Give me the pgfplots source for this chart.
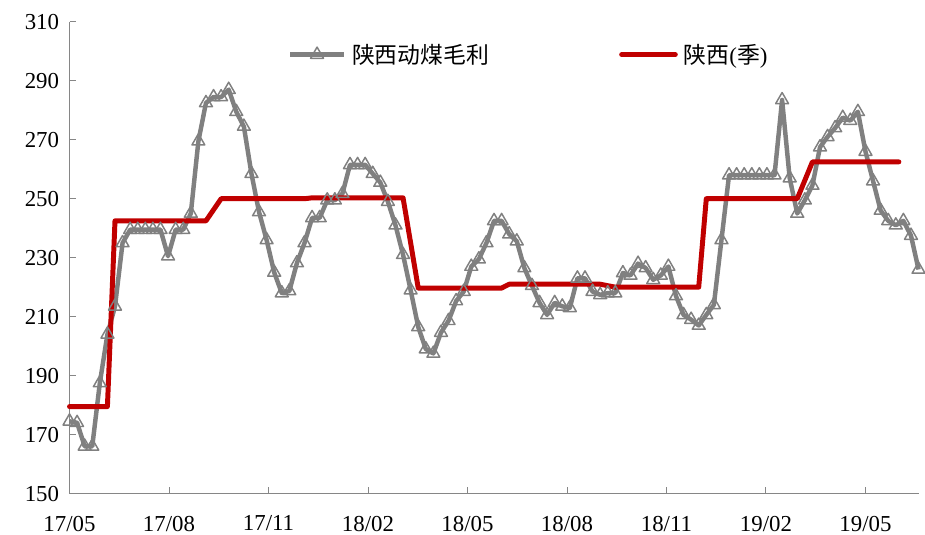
\documentclass[border=0pt]{standalone}
\usepackage{pgfplots}
\pgfplotsset{compat=1.18}
\usepackage{fontspec}
\setmainfont{Liberation Serif}
\newfontfamily\cjk{Noto Sans CJK SC}
\definecolor{lgrey}{RGB}{128,128,128}
\definecolor{axgrey}{RGB}{134,134,134}
\definecolor{dred}{RGB}{192,0,0}
\begin{document}
\begin{tikzpicture}
\begin{axis}[
  scale only axis,
  width=855bp, height=475bp,
  xmin=0, xmax=112,
  ymin=150, ymax=310,
  ytick={150,170,...,310},
  xtick={0,13.125,26.25,39.375,52.5,65.625,78.75,91.875,105},
  xticklabels={17/05,17/08,17/11,18/02,18/05,18/08,18/11,19/02,19/05},
  axis x line*=bottom, axis y line*=left,
  axis line style={axgrey, line width=1bp, -},
  major tick style={axgrey, line width=1bp},
  major tick length=7bp,
  tick align=inside,
  /pgf/number format/assume math mode=true,
  ticklabel style={font=\fontsize{23bp}{27bp}\selectfont, text=black},
  yticklabel style={xshift=-7bp},
  xticklabel style={yshift=-19bp},
  clip=false,
  legend style={at={(axis cs:28.8,298.9)}, anchor=west, draw=none, fill=none,
    inner sep=0pt, font=\fontsize{23bp}{27bp}\selectfont,
    /tikz/every odd column/.append style={column sep=4bp},
    /tikz/every even column/.append style={column sep=129bp}},
  legend columns=2,
  legend cell align=left,
  legend image code/.code={\draw[mark repeat=2,mark phase=2,#1] plot coordinates {(0bp,0bp) (27bp,0bp) (54bp,0bp)};},
]
\addplot[lgrey, line width=4.5bp, line join=round, mark=triangle, mark size=7.5bp,
  mark options={solid, draw=lgrey, fill=none, line width=1.5bp}] coordinates {
(0,174.5) (1,174) (2,166) (3,166) (4,187.5) (5,204) (6,213.5) (7,235) (8,239.5) (9,239.5)
(10,239.5) (11,239.5) (12,239.5) (13,230.5) (14,239.5) (15,239.5) (16,245) (17,269.5) (18,282.5) (19,284.5)
(20,284.5) (21,287) (22,279.5) (23,274.5) (24,258.5) (25,245.5) (26,236) (27,225) (28,218) (29,218.7)
(30,228.2) (31,235) (32,243.5) (33,243.5) (34,249.5) (35,249.5) (36,251.7) (37,261.5) (38,261.5) (39,261.5)
(40,258.5) (41,255.5) (42,249) (43,241) (44,231) (45,219) (46,206.5) (47,199) (48,197.5) (49,204.6)
(50,208.6) (51,215.3) (52,218.5) (53,227) (54,229.5) (55,235) (56,242.5) (57,242.5) (58,238) (59,235.6)
(60,226.5) (61,220.5) (62,214.7) (63,210.6) (64,214.7) (65,213.5) (66,213) (67,223) (68,223) (69,218.5)
(70,217.4) (71,218) (72,218) (73,224.8) (74,224) (75,228) (76,226.5) (77,222.5) (78,224) (79,227)
(80,217) (81,210.6) (82,209) (83,207) (84,210.6) (85,214) (86,236) (87,258) (88,258) (89,258)
(90,258) (91,258) (92,258) (93,258) (94,283.5) (95,257) (96,245) (97,249.5) (98,254.5) (99,267.5)
(100,271) (101,274) (102,277.5) (103,276.5) (104,279.5) (105,266) (106,256) (107,246) (108,242.5) (109,241)
(110,242.5) (111,237.5) (112,226)
};
\addlegendentry{\cjk 陕西动煤毛利}
\addplot[dred, line width=5bp, line join=round, line cap=round, no marks] coordinates {
(0,179.5) (5,179.5) (6,242.5) (18,242.5) (20,250) (31,250) (32,250.3) (44,250.3) (46,219.7)
(57,219.7) (58,221) (70,221) (72,220) (83,220) (84,250) (96,250) (98,262.5) (109.4,262.5)
};
\addlegendentry{{\cjk 陕西}({\cjk 季})}
\end{axis}
\path[use as bounding box] (current axis.south west) ++(-70bp,-40bp) rectangle ++(925bp,537bp);
\end{tikzpicture}
\end{document}
